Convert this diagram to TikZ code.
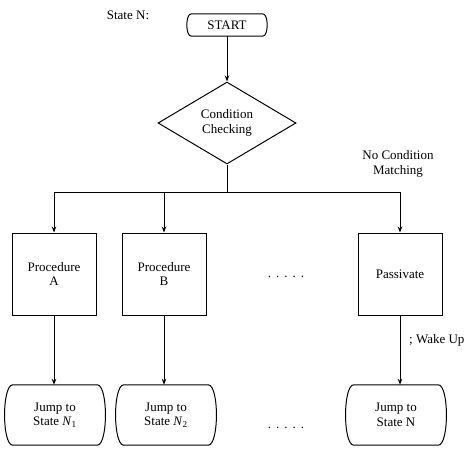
\documentclass[tikz,border=0pt]{standalone}
\usepackage{fontspec}
\setmainfont{Liberation Serif}
\usetikzlibrary{arrows.meta,shapes.geometric}

% outline with outward-bulging left and right sides
\newcommand\bulgeoutline[2]{%
  \draw[line] (#1.north west) -- (#1.north east)
    .. controls ([xshift=#2]#1.north east) and ([xshift=#2]#1.south east) .. (#1.south east)
    -- (#1.south west)
    .. controls ([xshift=-#2]#1.south west) and ([xshift=-#2]#1.north west) .. (#1.north west) -- cycle;}

% a row of five spaced dots
\newcommand\dotrow{.\hspace{5pt}.\hspace{5pt}.\hspace{5pt}.\hspace{5pt}.}

\begin{document}
\begin{tikzpicture}[x=1pt,y=-1pt,
  font=\fontsize{13}{14.5}\selectfont,
  line/.style={line width=1pt},
  arr/.style={line, -{Stealth[length=6pt,width=4.5pt]}},
  txt/.style={align=center, inner sep=0pt},
  termbox/.style={txt, minimum width=71pt, minimum height=22pt},
  diam/.style={draw, line width=1pt, diamond, txt, minimum width=138pt, minimum height=82pt},
  procbox/.style={draw, line width=1pt, txt, minimum width=84pt, minimum height=82pt},
  jumpbox/.style={txt, minimum width=84pt, minimum height=60pt}]

\useasboundingbox (0,0) rectangle (472,453);

% start terminal
\node (title) [txt] at (128,15) {State N:};
\node (start) [termbox] at (227,25) {START};
\bulgeoutline{start}{6pt}

% condition test
\node (cond) [diam] at (227,123) {Condition\\Checking};
\draw[arr] (start.south) -- (cond.north);

% branch bus
\coordinate (bus) at (227,192);
\node (pa) [procbox] at (54,274) {Procedure\\A};
\node (pb) [procbox] at (164,274) {Procedure\\B};
\node (pp) [procbox] at (400,274) {Passivate};
\node (dots1) [txt] at (286,277) {\dotrow};
\node (nocond) [txt] at (398,164) {No Condition\\Matching};

\draw[line] (cond.south) -- (bus);
\draw[line] (pa.north |- bus) -- (pp.north |- bus);
\draw[arr] (pa.north |- bus) -- (pa.north);
\draw[arr] (pb.north |- bus) -- (pb.north);
\draw[arr] (pp.north |- bus) -- (pp.north);

% jump terminals
\node (ja) [jumpbox] at (55,415) {Jump to\\State \textit{N}\textsubscript{1}};
\node (jb) [jumpbox] at (166,415) {Jump to\\State \textit{N}\textsubscript{2}};
\node (jn) [jumpbox] at (396,415) {Jump to\\State N};
\bulgeoutline{ja}{11pt}
\bulgeoutline{jb}{11pt}
\bulgeoutline{jn}{11pt}
\node (dots2) [txt] at (286,428) {\dotrow};

\draw[arr] (pa.south) -- (pa.south |- ja.north);
\draw[arr] (pb.south) -- (pb.south |- jb.north);
\draw[arr] (pp.south) -- (pp.south |- jn.north);
\node (wake) [txt, anchor=west] at (409,340) {; Wake Up};
\end{tikzpicture}
\end{document}
